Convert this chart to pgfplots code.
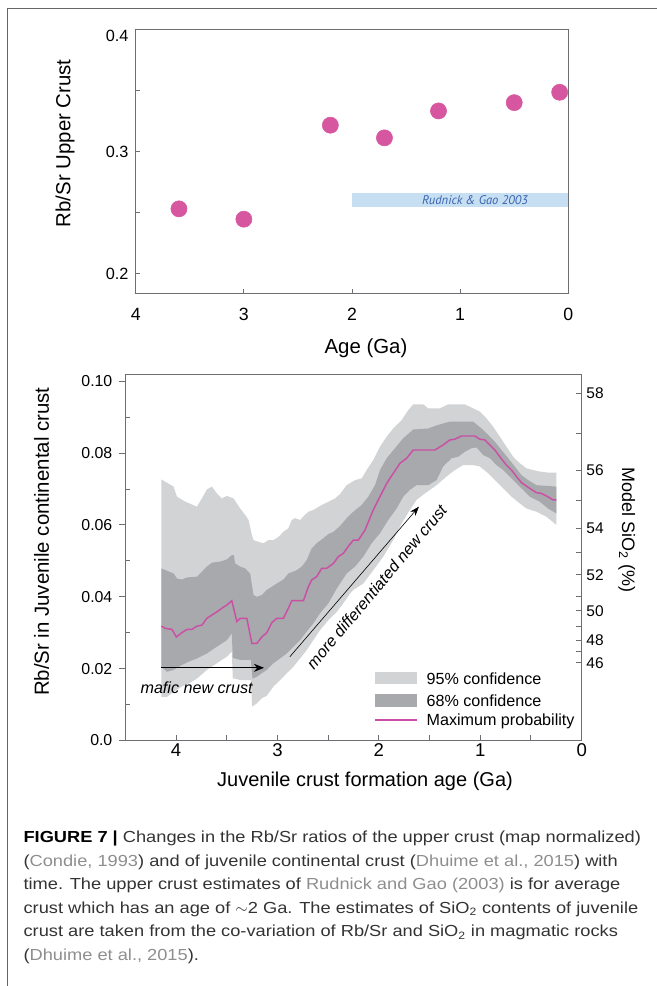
\documentclass[border=0pt]{standalone}
\usepackage{fontspec}
\setmainfont{Liberation Sans}
\newfontfamily\capfont[FakeStretch=1.14]{Liberation Sans}
\newfontfamily\rudfont{PT Sans}
\usepackage{xcolor}
\usepackage{pgfplots}
\pgfplotsset{compat=1.18}
\usetikzlibrary{arrows.meta}
\definecolor{lightg}{HTML}{D1D3D4}
\definecolor{darkg}{HTML}{A7A9AC}
\definecolor{magc}{HTML}{CB4FA5}
\definecolor{dotc}{HTML}{D6579F}
\definecolor{axc}{HTML}{6D6E71}
\definecolor{barc}{HTML}{C6DFF3}
\definecolor{rtext}{HTML}{3A63AE}
\definecolor{captc}{HTML}{333333}
\definecolor{linkc}{HTML}{8E8E8E}
\definecolor{framec}{HTML}{666666}
\begin{document}
\begin{tikzpicture}[x=0.75pt,y=-0.75pt]
\path[use as bounding box] (0,0) rectangle (657,986);
\draw[framec, line width=0.9pt] (7.5,986) -- (7.5,8.7) -- (657,8.7);

% ---------------- top panel
\begin{axis}[at={(101.78pt,-219.98pt)}, anchor=south west, scale only axis,
  width=324.45pt, height=197.5pt,
  xmin=0, xmax=4, x dir=reverse, ymin=0.184, ymax=0.4,
  axis line style={axc, line width=0.75pt}, tick style={axc, line width=0.75pt},
  tick align=inside, major tick length=3.2pt,
  xtick pos=left, ytick pos=left,
  xtick={0,1,2,3,4}, xticklabels={0,1,2,3,4},
  ytick={0.2,0.25,0.3,0.35}, yticklabels={0.2,,0.3,},
  extra y ticks={0.4}, extra y tick labels={0.4},
  extra y tick style={yticklabel style={yshift=-4.3pt}},
  xticklabel style={font=\fontsize{13.3}{15}\selectfont, yshift=-7.35pt},
  yticklabel style={font=\fontsize{12.2}{14}\selectfont, xshift=-1.95pt},
  clip=false]
\addplot[fill=barc, draw=none] coordinates {(2,0.2546) (0,0.2546) (0,0.2661) (2,0.2661)} -- cycle;
\node[font=\rudfont\itshape\fontsize{9.4}{11}\selectfont, text=rtext] at (axis cs:0.863,0.2604) {Rudnick \& Gao 2003};
\addplot[only marks, color=dotc, mark=*, mark size=6.05pt, mark options={fill=dotc, draw=dotc, line width=0.4pt}] coordinates {
(3.6,0.2533) (3.0,0.2448) (2.2,0.3219) (1.7,0.3115) (1.2,0.3336) (0.5,0.3404) (0.08,0.3489)};
\end{axis}

% ---------------- bottom panel, main
\begin{axis}[at={(93.98pt,-555.23pt)}, anchor=south west, scale only axis,
  width=342.3pt, height=274pt,
  xmin=0, xmax=4.5, x dir=reverse, ymin=0, ymax=0.1018,
  axis line style={axc, line width=0.75pt}, tick style={axc, line width=0.75pt},
  tick align=inside, major tick length=3.75pt, minor tick length=3.75pt,
  xtick pos=left, xtick={0,1,2,3,4}, xticklabels={0,1,2,3,4},
  minor xtick={0.5,1.5,2.5,3.5}, ytick=\empty,
  xticklabel style={font=\fontsize{13.9}{16}\selectfont, yshift=1.1pt},
  clip=false]
% 95% band
\addplot[fill=lightg, draw=none] coordinates {
(4.145,0.0727)(4.024,0.0707)(3.991,0.0679)(3.909,0.0665)(3.794,0.0651)(3.745,0.0674)
(3.696,0.0699)(3.646,0.0707)(3.597,0.0688)(3.548,0.0674)(3.499,0.0681)(3.433,0.0674)
(3.367,0.0646)(3.318,0.0628)(3.285,0.0614)(3.252,0.0572)(3.236,0.0558)(3.187,0.0553)
(3.138,0.0549)(3.088,0.0558)(3.039,0.0558)(2.990,0.0567)(2.941,0.0581)(2.892,0.0591)
(2.859,0.0614)(2.826,0.0619)(2.777,0.0614)(2.728,0.0628)(2.695,0.0637)(2.645,0.0642)
(2.580,0.0653)(2.497,0.0665)(2.432,0.0674)(2.383,0.0686)(2.317,0.0711)(2.235,0.0725)
(2.169,0.0730)(2.120,0.0753)(2.055,0.0781)(1.989,0.0818)(1.923,0.0846)(1.858,0.0869)
(1.776,0.0892)(1.710,0.0920)(1.661,0.0936)(1.562,0.0936)(1.513,0.0925)(1.398,0.0925)
(1.316,0.0936)(1.152,0.0936)(1.070,0.0925)(1.004,0.0916)(0.939,0.0897)(0.873,0.0874)
(0.807,0.0846)(0.742,0.0818)(0.676,0.0790)(0.610,0.0772)(0.545,0.0758)(0.479,0.0753)
(0.414,0.0749)(0.332,0.0746)(0.249,0.0746)
(0.249,0.0600)(0.348,0.0623)(0.446,0.0637)(0.545,0.0646)(0.610,0.0660)(0.692,0.0679)
(0.774,0.0702)(0.856,0.0725)(0.922,0.0744)(1.004,0.0763)(1.070,0.0767)(1.169,0.0767)
(1.251,0.0753)(1.333,0.0735)(1.431,0.0711)(1.546,0.0688)(1.628,0.0670)(1.694,0.0642)
(1.776,0.0604)(1.858,0.0558)(1.956,0.0512)(2.055,0.0474)(2.153,0.0437)(2.252,0.0419)
(2.284,0.0409)(2.350,0.0382)(2.415,0.0358)(2.497,0.0335)(2.580,0.0307)(2.646,0.0279)
(2.712,0.0251)(2.777,0.0228)(2.843,0.0205)(2.908,0.0187)(2.974,0.0168)(3.039,0.0150)
(3.105,0.0124)(3.154,0.0117)(3.203,0.0103)(3.250,0.0094)(3.262,0.0168)(3.367,0.0168)
(3.417,0.0172)(3.440,0.0172)(3.450,0.0247)(3.499,0.0233)(3.597,0.0215)(3.696,0.0196)
(3.794,0.0172)(3.876,0.0158)(3.942,0.0150)(4.024,0.0135)(4.089,0.0121)(4.145,0.0121)
} -- cycle;
% 68% band
\addplot[fill=darkg, draw=none] coordinates {
(4.145,0.0479)(4.024,0.0465)(3.991,0.0451)(3.942,0.0448)(3.892,0.0454)(3.794,0.0456)
(3.745,0.0470)(3.696,0.0484)(3.646,0.0495)(3.564,0.0498)(3.499,0.0504)(3.450,0.0516)
(3.430,0.0516)(3.417,0.0493)(3.367,0.0484)(3.318,0.0479)(3.269,0.0465)(3.236,0.0405)
(3.203,0.0400)(3.154,0.0405)(3.105,0.0419)(3.055,0.0428)(3.006,0.0437)(2.941,0.0448)
(2.892,0.0465)(2.843,0.0470)(2.810,0.0474)(2.761,0.0484)(2.712,0.0502)(2.662,0.0535)
(2.613,0.0549)(2.548,0.0563)(2.497,0.0575)(2.448,0.0581)(2.383,0.0597)(2.317,0.0619)
(2.252,0.0637)(2.169,0.0656)(2.104,0.0679)(2.038,0.0711)(1.989,0.0753)(1.923,0.0786)
(1.841,0.0814)(1.759,0.0842)(1.661,0.0866)(1.513,0.0869)(1.415,0.0879)(1.300,0.0888)
(1.070,0.0888)(0.988,0.0869)(0.922,0.0851)(0.856,0.0832)(0.791,0.0809)(0.725,0.0786)
(0.660,0.0763)(0.594,0.0739)(0.528,0.0725)(0.446,0.0711)(0.348,0.0709)(0.249,0.0707)
(0.249,0.0632)(0.332,0.0646)(0.414,0.0665)(0.512,0.0679)(0.578,0.0698)(0.643,0.0716)
(0.709,0.0735)(0.774,0.0753)(0.840,0.0767)(0.906,0.0786)(0.971,0.0795)(1.037,0.0816)
(1.086,0.0814)(1.152,0.0804)(1.218,0.0790)(1.283,0.0786)(1.366,0.0763)(1.431,0.0725)
(1.513,0.0711)(1.628,0.0711)(1.694,0.0698)(1.759,0.0679)(1.825,0.0646)(1.907,0.0614)
(1.989,0.0577)(2.071,0.0549)(2.153,0.0512)(2.235,0.0484)(2.317,0.0465)(2.383,0.0437)
(2.415,0.0423)(2.497,0.0382)(2.580,0.0354)(2.646,0.0326)(2.712,0.0303)(2.777,0.0279)
(2.843,0.0261)(2.908,0.0242)(2.974,0.0228)(3.039,0.0215)(3.105,0.0196)(3.154,0.0187)
(3.203,0.0177)(3.246,0.0172)(3.262,0.0224)(3.367,0.0224)(3.417,0.0228)(3.440,0.0228)
(3.450,0.0298)(3.499,0.0279)(3.597,0.0261)(3.696,0.0242)(3.794,0.0228)(3.876,0.0219)
(3.942,0.0210)(4.024,0.0196)(4.089,0.0191)(4.145,0.0205)
} -- cycle;
% maximum probability
\addplot[magc, line width=1.1pt] coordinates {
(4.145,0.0318)(4.106,0.0312)(4.040,0.0309)(3.997,0.0288)(3.942,0.0300)(3.892,0.0309)
(3.843,0.0309)(3.794,0.0318)(3.745,0.0321)(3.696,0.0340)(3.646,0.0349)(3.597,0.0358)
(3.548,0.0368)(3.499,0.0377)(3.450,0.0389)(3.400,0.0331)(3.367,0.0340)(3.302,0.0340)
(3.252,0.0270)(3.203,0.0270)(3.154,0.0288)(3.105,0.0300)(3.055,0.0328)(3.006,0.0340)
(2.941,0.0340)(2.892,0.0368)(2.859,0.0389)(2.744,0.0389)(2.695,0.0428)(2.662,0.0447)
(2.613,0.0456)(2.564,0.0479)(2.515,0.0479)(2.448,0.0493)(2.399,0.0512)(2.350,0.0521)
(2.300,0.0541)(2.251,0.0558)(2.202,0.0558)(2.137,0.0586)(2.055,0.0642)(1.989,0.0679)
(1.923,0.0716)(1.858,0.0744)(1.792,0.0772)(1.726,0.0786)(1.661,0.0809)(1.448,0.0809)
(1.366,0.0823)(1.300,0.0837)(1.251,0.0839)(1.185,0.0848)(1.054,0.0848)(1.004,0.0839)
(0.955,0.0837)(0.906,0.0823)(0.856,0.0809)(0.807,0.0790)(0.742,0.0767)(0.692,0.0753)
(0.643,0.0735)(0.594,0.0718)(0.528,0.0705)(0.446,0.0690)(0.397,0.0688)(0.348,0.0681)
(0.282,0.0670)(0.249,0.0670)};
\draw[black, line width=0.6pt, -{Stealth[length=7.5pt,width=6pt]}] (axis cs:4.149,0.0202) -- (axis cs:3.133,0.0202);
\draw[black, line width=0.45pt, -{Stealth[length=7pt,width=5pt]}] (axis cs:2.877,0.0233) -- (axis cs:1.605,0.0651);
\node[font=\itshape\fontsize{12.1}{14}\selectfont, anchor=base] at (axis cs:3.797,0.0131) {mafic new crust};
\node[font=\itshape\fontsize{12.1}{14}\selectfont, rotate=50] at (axis cs:2.022,0.0428) {more differentiated new crust};
\end{axis}

% left major ticks (outside) with labels
\begin{axis}[at={(93.98pt,-555.23pt)}, anchor=south west, scale only axis,
  width=342.3pt, height=274pt,
  xmin=0, xmax=4.5, x dir=reverse, ymin=0, ymax=0.1018,
  hide x axis, axis y line*=left,
  axis line style={axc, line width=0.75pt}, tick style={axc, line width=0.75pt},
  tick align=outside, major tick length=5pt,
  ytick={0,0.02,0.04,0.06,0.08,0.1}, yticklabels={0.0,0.02,0.04,0.06,0.08,0.10},
  yticklabel style={font=\fontsize{11.9}{14}\selectfont, xshift=-1.2pt}]
\end{axis}
% left minor ticks (inside)
\begin{axis}[at={(93.98pt,-555.23pt)}, anchor=south west, scale only axis,
  width=342.3pt, height=274pt,
  xmin=0, xmax=4.5, x dir=reverse, ymin=0, ymax=0.1018,
  hide x axis, axis y line*=left,
  axis line style={axc, line width=0.75pt}, tick style={axc, line width=0.75pt},
  tick align=inside, major tick length=3.75pt,
  ytick={0.01,0.03,0.05,0.07,0.09}, yticklabels={,,,,}]
\end{axis}
% right SiO2 axis
\begin{axis}[at={(93.98pt,-555.23pt)}, anchor=south west, scale only axis,
  width=342.3pt, height=274pt,
  xmin=0, xmax=4.5, x dir=reverse, ymin=0, ymax=0.1018,
  hide x axis, axis y line*=right,
  axis line style={axc, line width=0.75pt}, tick style={axc, line width=0.75pt},
  tick align=inside, major tick length=4.3pt, minor tick length=4.3pt,
  ytick={0.0216,0.0279,0.0361,0.0461,0.0590,0.0753,0.0966},
  yticklabels={46,48,50,52,54,56,58},
  minor ytick={0.0247,0.0317,0.0400,0.0523,0.0668,0.0856},
  yticklabel style={font=\fontsize{11.6}{14}\selectfont}]
\end{axis}

% axis labels
\node[rotate=90, font=\fontsize{15.3}{18}\selectfont] at (65,143.3) {Rb/Sr Upper Crust};
\node[anchor=base, font=\fontsize{15.3}{18}\selectfont] at (366,353.3) {Age (Ga)};
\node[anchor=base, font=\fontsize{15}{18}\selectfont] at (365,786.7) {Juvenile crust formation age (Ga)};
\node[rotate=90, font=\fontsize{15.3}{18}\selectfont] at (41.7,541.7) {Rb/Sr in Juvenile continental crust};
\node[rotate=-90, font=\fontsize{13.5}{16}\selectfont] at (626.7,530) {Model SiO\textsubscript{2} (\%)};

% legend
\node[anchor=base west, inner sep=0pt, font=\fontsize{12.1}{14}\selectfont] at (375,684.3)
  {\textcolor{lightg}{\rule{31.5pt}{9.4pt}}\hspace{7pt}95\% confidence};
\node[anchor=base west, inner sep=0pt, font=\fontsize{12.1}{14}\selectfont] at (375,706.7)
  {\textcolor{darkg}{\rule{31.5pt}{9.4pt}}\hspace{7pt}68\% confidence};
\node[anchor=base west, inner sep=0pt, font=\fontsize{12.1}{14}\selectfont] at (375,725.8)
  {\textcolor{magc}{\rule[3.8pt]{31.5pt}{1.1pt}}\hspace{7pt}Maximum probability};

% caption
\begin{scope}[every node/.style={anchor=base west, inner sep=0pt, text=captc, font=\capfont\fontsize{12}{14}\selectfont}]
\node at (23.3,842.7) {{\color{black}\bfseries FIGURE 7 |} Changes in the Rb/Sr ratios of the upper crust (map normalized)};
\node at (23.3,866.0) {({\color{linkc}Condie, 1993}) and of juvenile continental crust ({\color{linkc}Dhuime et al., 2015}) with};
\node at (23.3,889.3) {time. The upper crust estimates of {\color{linkc}Rudnick and Gao (2003)} is for average};
\node at (23.3,913.3) {crust which has an age of $\sim$2 Ga. The estimates of SiO\textsubscript{2} contents of juvenile};
\node at (23.3,936.7) {crust are taken from the co-variation of Rb/Sr and SiO\textsubscript{2} in magmatic rocks};
\node at (23.3,960.0) {({\color{linkc}Dhuime et al., 2015}).};
\end{scope}
\end{tikzpicture}
\end{document}
